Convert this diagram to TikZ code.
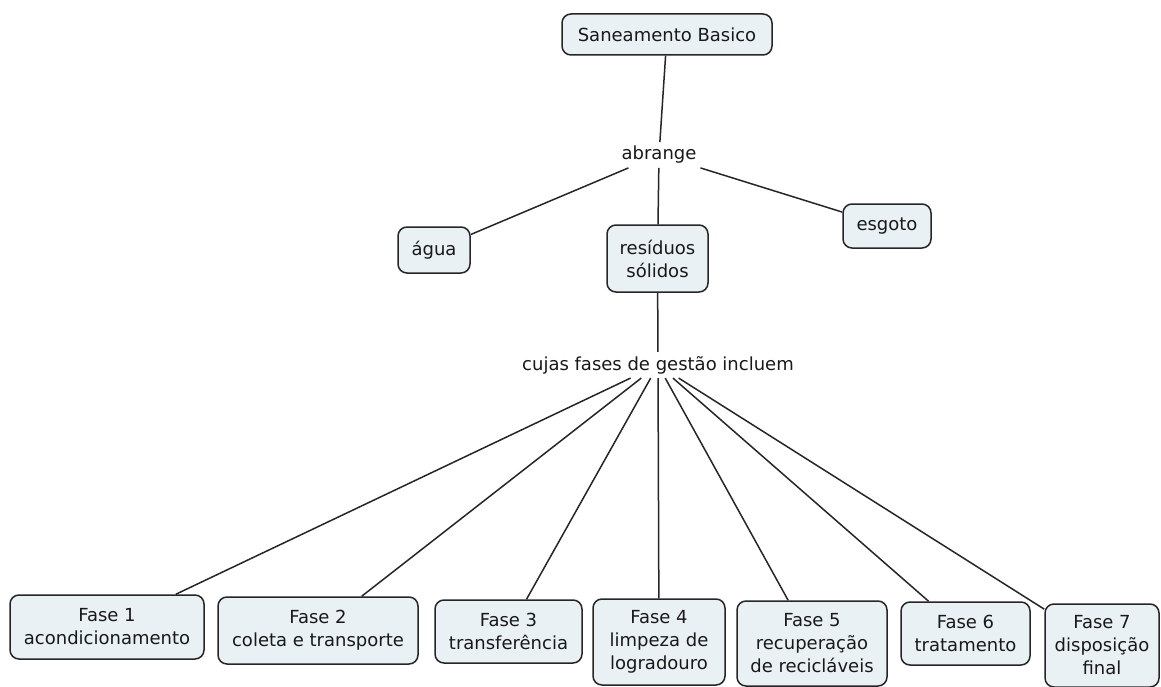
\documentclass[tikz,border=0pt]{standalone}
\usepackage{fontspec}
\setmainfont{DejaVu Sans}
\begin{document}
\begin{tikzpicture}[x=1pt,y=-1pt,
  concept/.style={draw=black!85, line width=1.5pt, rounded corners=9pt, fill=cfill,
    align=center, inner sep=0pt, font=\fontsize{18}{23}\selectfont, text=black!90},
  linklabel/.style={inner sep=4pt, font=\fontsize{18}{23}\selectfont, text=black!90},
  conn/.style={line width=1.5pt, draw=black!85}]
\definecolor{cfill}{HTML}{EAF1F4}
\useasboundingbox (0,0) rectangle (1161,687);
\fill[white] (0,0) rectangle (1161,687);
% concepts
\node[concept, minimum width=210pt, minimum height=41pt] (san) at (667,34.5) {Saneamento Basico};
\node[linklabel] (abr) at (659,155) {abrange};
\node[concept, minimum width=72pt, minimum height=46pt] (agua) at (434,250) {água};
\node[concept, minimum width=101pt, minimum height=67pt] (res) at (657.5,258.5) {resíduos\\sólidos};
\node[concept, minimum width=88pt, minimum height=44pt] (esg) at (887,226) {esgoto};
\node[linklabel] (cuj) at (658,365) {cujas fases de gestão incluem};
\node[concept, minimum width=194pt, minimum height=64pt] (f1) at (107,627) {Fase 1\\acondicionamento};
\node[concept, minimum width=200pt, minimum height=67pt] (f2) at (318,630.5) {Fase 2\\coleta e transporte};
\node[concept, minimum width=147pt, minimum height=63pt] (f3) at (508.5,631.5) {Fase 3\\transferência};
\node[concept, minimum width=132pt, minimum height=86pt] (f4) at (659,642) {Fase 4\\limpeza de\\logradouro};
\node[concept, minimum width=150pt, minimum height=85pt] (f5) at (812,643.5) {Fase 5\\recuperação\\de recicláveis};
\node[concept, minimum width=129pt, minimum height=63pt] (f6) at (965.5,633.5) {Fase 6\\tratamento};
\node[concept, minimum width=114pt, minimum height=83pt] (f7) at (1102,645.5) {Fase 7\\disposição\\final};
% connectors
\draw[conn] (san) -- (abr);
\draw[conn] (abr) -- (agua);
\draw[conn] (abr) -- (res);
\draw[conn] (abr) -- (esg);
\draw[conn] (res) -- (cuj);
\foreach \f in {f1,f2,f3,f4,f5,f6,f7} \draw[conn] (cuj) -- (\f);
\end{tikzpicture}
\end{document}
